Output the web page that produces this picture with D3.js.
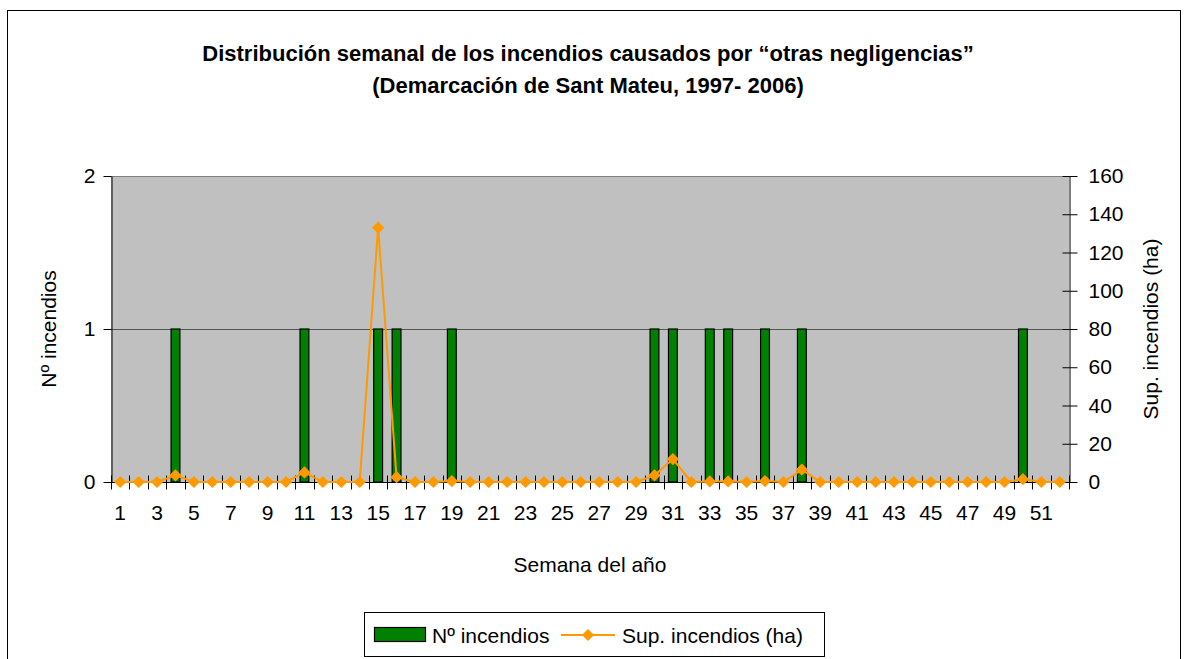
<!DOCTYPE html>
<html>
<head>
<meta charset="utf-8">
<script src="https://cdn.jsdelivr.net/npm/d3@7"></script>
<style>
  body { margin: 0; background: #fff; }
  svg text { font-family: "Liberation Sans", Arial, sans-serif; fill: #000; }
</style>
</head>
<body>
<div id="chart"></div>
<script>
// semanas del año
var weeks = [1,2,3,4,5,6,7,8,9,10,11,12,13,14,15,16,17,18,19,20,21,22,23,24,25,26,
             27,28,29,30,31,32,33,34,35,36,37,38,39,40,41,42,43,44,45,46,47,48,49,50,51,52];

// Nº incendios por semana
var fires = [0,0,0,1,0,0,0,0,0,0,1,0,0,0,1,1,0,0,1,0,0,0,0,0,0,0,
             0,0,0,1,1,0,1,1,0,1,0,1,0,0,0,0,0,0,0,0,0,0,0,1,0,0];

// Sup. incendios (ha) por semana
var area = [0,0,0,3.5,0,0,0,0,0,0,5,0,0,0,133,2.5,0,0,0.5,0,0,0,0,0,0,0,
            0,0,0,3.5,12,0,0.3,0.3,0,0.5,0,6.5,0,0,0,0,0,0,0,0,0,0,0,1.5,0,0];

var leftTicks = [0, 1, 2];
var rightTicks = [0, 20, 40, 60, 80, 100, 120, 140, 160];

var W = 1188, H = 659;
var plot = {left: 111, right: 1069, top: 176, bottom: 482};

var svg = d3.select("#chart").append("svg")
    .attr("width", W)
    .attr("height", H);

// marco exterior
svg.append("rect")
    .attr("x", 7.5).attr("y", 10.5)
    .attr("width", 1173).attr("height", 660)
    .attr("fill", "#fff")
    .attr("stroke", "#000")
    .attr("stroke-width", 1);

var x = d3.scaleBand()
    .domain(weeks)
    .range([plot.left, plot.right])
    .padding(0);

var y = d3.scaleLinear()
    .domain([0, 2])
    .range([plot.bottom, plot.top]);

var y2 = d3.scaleLinear()
    .domain([0, 160])
    .range([plot.bottom, plot.top]);

// fondo del área de trazado
svg.append("rect")
    .attr("x", plot.left).attr("y", plot.top)
    .attr("width", plot.right - plot.left)
    .attr("height", plot.bottom - plot.top)
    .attr("fill", "#c0c0c0");

// líneas de división
svg.append("g")
    .selectAll("line")
    .data(leftTicks.filter(function(d) { return d > 0; }))
    .enter().append("line")
        .attr("x1", plot.left).attr("x2", plot.right)
        .attr("y1", function(d) { return Math.round(y(d)) + 0.5; })
        .attr("y2", function(d) { return Math.round(y(d)) + 0.5; })
        .attr("stroke", function(d) { return d === 2 ? "#808080" : "#555"; })
        .attr("stroke-width", 1);

// barras
var bw = x.bandwidth() * 0.48;
svg.append("g")
    .selectAll("rect")
    .data(weeks.map(function(w, i) { return {week: w, value: fires[i]}; }).filter(function(d) { return d.value > 0; }))
    .enter().append("rect")
        .attr("x", function(d) { return x(d.week) + x.bandwidth() / 2 - bw / 2; })
        .attr("y", function(d) { return y(d.value); })
        .attr("width", bw)
        .attr("height", function(d) { return y(0) - y(d.value); })
        .attr("fill", "#008000")
        .attr("stroke", "#000")
        .attr("stroke-width", 1.2);

// eje izquierdo
var leftAxis = svg.append("g")
    .attr("transform", "translate(" + (plot.left + 0.5) + ",0)")
    .call(d3.axisLeft(y).tickValues(leftTicks).tickSize(8).tickSizeOuter(0).tickPadding(8).tickFormat(d3.format("d")));
leftAxis.select(".domain").attr("stroke", "#000");
leftAxis.selectAll("text").style("font-size", "21px");

// eje derecho
var rightAxis = svg.append("g")
    .attr("transform", "translate(" + (plot.right + 0.5) + ",0)")
    .call(d3.axisRight(y2).tickValues(rightTicks).tickSize(0).tickPadding(19));
rightAxis.select(".domain").attr("stroke", "#000");
rightAxis.selectAll(".tick line").attr("x1", -7).attr("x2", 8).attr("stroke", "#000");
rightAxis.selectAll("text").style("font-size", "21px");

// eje X
var xAxis = svg.append("g")
    .attr("transform", "translate(0," + (plot.bottom + 0.5) + ")");
xAxis.append("line")
    .attr("x1", plot.left).attr("x2", plot.right)
    .attr("stroke", "#000");
xAxis.selectAll(".xtick")
    .data(weeks.concat([null]))
    .enter().append("line")
        .attr("class", "xtick")
        .attr("x1", function(d) { return Math.round(d === null ? plot.right : x(d)) + 0.5; })
        .attr("x2", function(d) { return Math.round(d === null ? plot.right : x(d)) + 0.5; })
        .attr("y1", -7).attr("y2", 7)
        .attr("stroke", "#000");
xAxis.selectAll(".xlabel")
    .data(weeks.filter(function(d) { return d % 2 === 1; }))
    .enter().append("text")
        .attr("class", "xlabel")
        .attr("x", function(d) { return x(d) + x.bandwidth() / 2; })
        .attr("y", 37)
        .attr("text-anchor", "middle")
        .style("font-size", "21px")
        .text(function(d) { return d; });

// línea de superficie
var pts = weeks.map(function(w, i) { return {week: w, value: area[i]}; });
var line = d3.line()
    .x(function(d) { return x(d.week) + x.bandwidth() / 2; })
    .y(function(d) { return y2(d.value); });

svg.append("path")
    .datum(pts)
    .attr("d", line)
    .attr("fill", "none")
    .attr("stroke", "#ff9900")
    .attr("stroke-width", 2);

svg.append("g")
    .selectAll("path")
    .data(pts)
    .enter().append("path")
        .attr("d", d3.symbol().type(d3.symbolDiamond2).size(95))
        .attr("transform", function(d) { return "translate(" + (x(d.week) + x.bandwidth() / 2) + "," + y2(d.value) + ")"; })
        .attr("fill", "#ff9900");

// títulos
svg.append("text")
    .attr("x", 588).attr("y", 61)
    .attr("text-anchor", "middle")
    .style("font-size", "22px").style("font-weight", "bold")
    .text("Distribución semanal de los incendios causados por “otras negligencias”");
svg.append("text")
    .attr("x", 588).attr("y", 93)
    .attr("text-anchor", "middle")
    .style("font-size", "22px").style("font-weight", "bold")
    .text("(Demarcación de Sant Mateu, 1997- 2006)");

svg.append("text")
    .attr("transform", "translate(56,329) rotate(-90)")
    .attr("text-anchor", "middle")
    .style("font-size", "21px")
    .text("Nº incendios");

svg.append("text")
    .attr("transform", "translate(1158,329) rotate(-90)")
    .attr("text-anchor", "middle")
    .style("font-size", "21px")
    .text("Sup. incendios (ha)");

svg.append("text")
    .attr("x", 590).attr("y", 572)
    .attr("text-anchor", "middle")
    .style("font-size", "21px")
    .text("Semana del año");

// leyenda
var legend = svg.append("g");
legend.append("rect")
    .attr("x", 364.5).attr("y", 612.5)
    .attr("width", 460).attr("height", 44)
    .attr("fill", "#fff")
    .attr("stroke", "#000");
legend.append("rect")
    .attr("x", 374.5).attr("y", 627.5)
    .attr("width", 51).attr("height", 14)
    .attr("fill", "#008000")
    .attr("stroke", "#000")
    .attr("stroke-width", 1.2);
legend.append("text")
    .attr("x", 432).attr("y", 643)
    .style("font-size", "21px")
    .text("Nº incendios");
legend.append("line")
    .attr("x1", 561).attr("x2", 615)
    .attr("y1", 635).attr("y2", 635)
    .attr("stroke", "#ff9900")
    .attr("stroke-width", 2);
legend.append("path")
    .attr("d", d3.symbol().type(d3.symbolDiamond2).size(95))
    .attr("transform", "translate(588,635)")
    .attr("fill", "#ff9900");
legend.append("text")
    .attr("x", 622).attr("y", 643)
    .style("font-size", "21px")
    .text("Sup. incendios (ha)");
</script>
</body>
</html>
